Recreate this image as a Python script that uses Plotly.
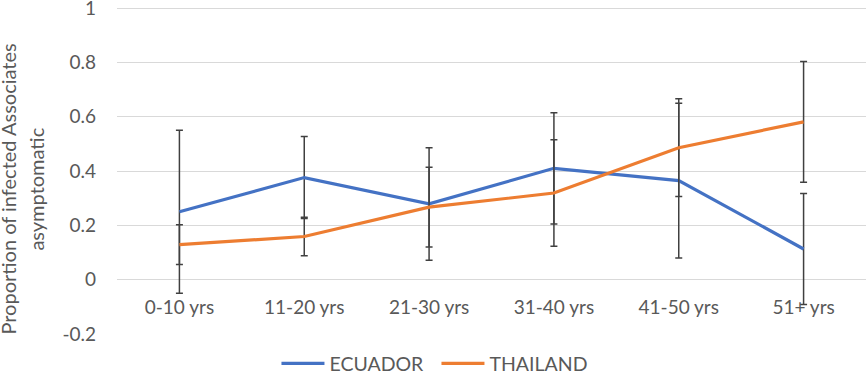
import plotly.graph_objects as go

categories = ["0-10 yrs", "11-20 yrs", "21-30 yrs", "31-40 yrs", "41-50 yrs", "51+ yrs"]
ecuador = [0.25, 0.376, 0.279, 0.41, 0.365, 0.113]
ecuador_err = [0.30, 0.151, 0.207, 0.205, 0.285, 0.204]
thailand = [0.129, 0.159, 0.267, 0.319, 0.486, 0.581]
thailand_err = [0.073, 0.071, 0.147, 0.196, 0.18, 0.222]
y_ticks = [-0.2, 0, 0.2, 0.4, 0.6, 0.8, 1]
y_tick_text = ["-0.2", "0", "0.2", "0.4", "0.6", "0.8", "1"]
y_title_lines = ["Proportion of infected Associates", "asymptomatic"]

FONT = "Lato"
TXT = "#595959"
ERR = "#404040"

fig = go.Figure()
fig.add_trace(go.Scatter(
    x=categories, y=ecuador, name="ECUADOR", mode="lines",
    line=dict(color="#4472C4", width=3.2),
    error_y=dict(type="data", array=ecuador_err, visible=True, color=ERR, thickness=1.5, width=3.5),
))
fig.add_trace(go.Scatter(
    x=categories, y=thailand, name="THAILAND", mode="lines",
    line=dict(color="#ED7D31", width=3.2),
    error_y=dict(type="data", array=thailand_err, visible=True, color=ERR, thickness=1.5, width=3.5),
))

title_x = [-0.1449, -0.1075]  # paper coords of the two title lines
annotations = [
    dict(text=t, textangle=-90, xref="paper", yref="paper",
         x=xp, y=0.443, xanchor="center", yanchor="middle", showarrow=False,
         font=dict(family=FONT, size=20, color=TXT))
    for t, xp in zip(y_title_lines, title_x)
]

fig.update_layout(
    width=866, height=373,
    margin=dict(l=117, r=0, t=7, b=39, autoexpand=False),
    plot_bgcolor="white", paper_bgcolor="white",
    font=dict(family=FONT, size=19, color=TXT),
    showlegend=True,
    legend=dict(orientation="h", xref="container", x=0.504, xanchor="center",
                y=-0.091, yanchor="middle", entrywidth=102,
                font=dict(family=FONT, size=19.5, color=TXT), itemwidth=43, traceorder="normal"),
    xaxis=dict(
        anchor="free", position=0.2 / 1.2, automargin=False,
        range=[-0.5, 5.5],
        showgrid=False, showline=False, zeroline=False, ticks="",
        tickfont=dict(family=FONT, size=19, color=TXT),
        ticklabelstandoff=14,
    ),
    yaxis=dict(
        range=[-0.2, 1.004], tickvals=y_ticks, ticktext=y_tick_text, automargin=False,
        showgrid=True, gridcolor="#D9D9D9", gridwidth=1,
        zeroline=False, showline=False, ticks="",
        tickfont=dict(family=FONT, size=19, color=TXT),
        ticklabelstandoff=20, ticklabeloverflow="allow",
    ),
    annotations=annotations,
)

fig.write_html("out.html", config={"displayModeBar": False},
               post_script="document.body.style.margin='0';document.body.style.overflow='hidden';")
